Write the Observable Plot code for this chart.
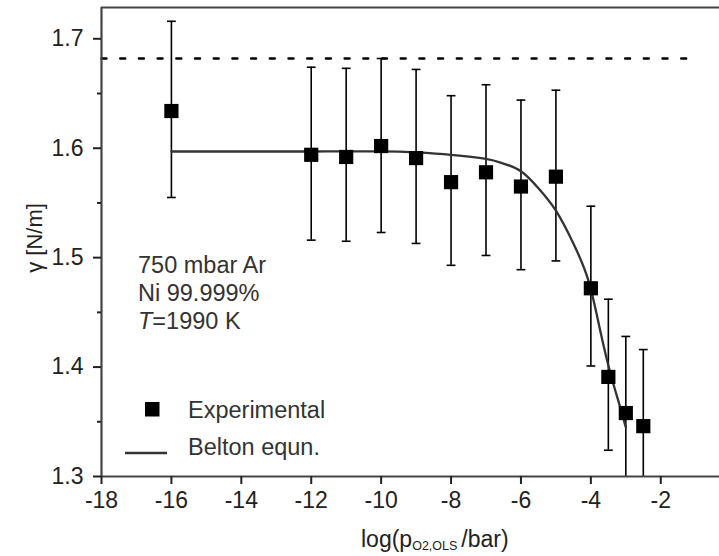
<!DOCTYPE html>
<html><head><meta charset="utf-8">
<script src="https://cdn.jsdelivr.net/npm/d3@7"></script>
<script src="https://cdn.jsdelivr.net/npm/@observablehq/plot@0.6"></script>
<style>body{margin:0;background:#fff}</style>
</head><body><div id="chart"></div>
<script>
// Experimental points
const logP   = [-16, -12, -11, -10, -9, -8, -7, -6, -5, -4, -3.5, -3, -2.5];
const gamma  = [1.634, 1.594, 1.592, 1.602, 1.591, 1.569, 1.578, 1.565, 1.574, 1.472, 1.391, 1.358, 1.346];
const errLow = [1.555, 1.516, 1.515, 1.523, 1.513, 1.493, 1.502, 1.489, 1.497, 1.401, 1.324, 1.287, 1.276];
const errHigh= [1.716, 1.674, 1.673, 1.682, 1.672, 1.648, 1.658, 1.644, 1.653, 1.547, 1.462, 1.428, 1.416];
// Belton equation curve
const beltonX = [-16, -14, -12, -10, -9, -8, -7, -6.5, -6, -5.5, -5, -4.5, -4.07, -3.75, -3.46, -3.2, -3.0];
const beltonY = [1.597, 1.597, 1.597, 1.5972, 1.5962, 1.594, 1.5903, 1.586, 1.579, 1.5635, 1.543, 1.513, 1.479, 1.436, 1.3966, 1.3675, 1.345];
// reference (dotted) line
const refGamma = 1.682;
const refX = [-18, -1];
// axes
const xDomain = [-18, -0.32];
const yDomain = [1.3, 1.7286];
const xTicks = [-18, -16, -14, -12, -10, -8, -6, -4, -2];
const yTicks = [1.3, 1.4, 1.5, 1.6, 1.7];
const yMinor = [1.35, 1.45, 1.55, 1.65];

const pts = logP.map((x, i) => ({x, y: gamma[i], lo: errLow[i], hi: errHigh[i]}));
const curve = beltonX.map((x, i) => ({x, y: beltonY[i]}));
const ref = refX.map(x => ({x, y: refGamma}));

const capSymbol = {draw(ctx, size){ const r = Math.sqrt(size / Math.PI); ctx.moveTo(-r, 0); ctx.lineTo(r, 0); }};
const squareSymbol = {draw(ctx, size){ const r = Math.sqrt(size / Math.PI); ctx.rect(-r, -r, 2 * r, 2 * r); }};

const FONT = "'Liberation Sans', Arial, Helvetica, sans-serif";

const chart = Plot.plot({
  width: 719, height: 556,
  marginLeft: 101, marginRight: 0, marginTop: 7, marginBottom: 80,
  style: {fontFamily: FONT, fontSize: "23px", background: "#fff", color: "#222", overflow: "visible"},
  x: {domain: xDomain},
  y: {domain: yDomain},
  marks: [
    Plot.line(ref, {x: "x", y: "y", stroke: "#000", strokeWidth: 2.4, strokeDasharray: "5 13.7", strokeDashoffset: 0}),
    Plot.ruleX(pts, {x: "x", y1: "lo", y2: "hi", stroke: "#000", strokeWidth: 1.6, clip: true}),
    Plot.dot(pts, {x: "x", y: "hi", symbol: capSymbol, r: 4.4, stroke: "#000", strokeWidth: 1.6, fill: "none", clip: true}),
    Plot.dot(pts, {x: "x", y: "lo", symbol: capSymbol, r: 4.4, stroke: "#000", strokeWidth: 1.6, fill: "none", clip: true}),
    Plot.line(curve, {x: "x", y: "y", curve: "natural", stroke: "#333", strokeWidth: 2.3}),
    Plot.dot(pts, {x: "x", y: "y", symbol: squareSymbol, r: 7.1, fill: "#000", stroke: "none"}),
    Plot.ruleX([xDomain[0]], {stroke: "#444", strokeWidth: 2.2}),
    Plot.ruleY([yDomain[0]], {stroke: "#444", strokeWidth: 2.2}),
    Plot.ruleY([yDomain[1]], {stroke: "#444", strokeWidth: 2.2}),
    Plot.axisX({ticks: xTicks, tickSize: 8, tickPadding: 7, fontSize: 23, strokeWidth: 2, stroke: "#222", fill: "#222", label: null, tickFormat: d => String(d)}),
    Plot.axisY({ticks: yTicks, tickSize: 8, tickPadding: 10, fontSize: 23, strokeWidth: 2, stroke: "#222", fill: "#222", label: null, tickFormat: d3.format(".1f")}),
    Plot.axisY({ticks: yMinor, tickSize: 4, strokeWidth: 2, stroke: "#222", label: null, tickFormat: () => ""})
  ]
});
document.getElementById("chart").appendChild(chart);

const svg = d3.select(chart);
// enforce tick label size
svg.selectAll('g[aria-label$="tick label"]').attr("font-size", 23).style("font-size", "23px");
svg.selectAll('g[aria-label$="tick label"] text').style("font-size", "23px");

const g = svg.append("g").attr("font-family", FONT).attr("fill", "#222").attr("text-anchor", "start");

// y axis label
g.append("text").attr("transform", "translate(42,238) rotate(-90)")
  .attr("text-anchor", "middle").attr("font-size", 22).text("γ [N/m]");

// x axis label with subscript
const xl = g.append("text").attr("x", 361).attr("y", 547).attr("font-size", 23);
xl.append("tspan").text("log(p");
xl.append("tspan").attr("font-size", 12.5).attr("dy", 3).text("O2,OLS");
xl.append("tspan").attr("dy", -3).attr("dx", 4).text("/bar)");

// annotation
const ann = ["750 mbar Ar", "Ni 99.999%"];
ann.forEach((t, i) => g.append("text").attr("x", 138).attr("y", 273 + i * 28).attr("font-size", 23.5).attr("fill", "#333").text(t));
const tl = g.append("text").attr("x", 138).attr("y", 329).attr("font-size", 23.5).attr("fill", "#333");
tl.append("tspan").attr("font-style", "italic").text("T");
tl.append("tspan").text("=1990 K");

// legend
g.append("rect").attr("x", 145).attr("y", 402).attr("width", 14.5).attr("height", 14.5).attr("fill", "#000");
g.append("text").attr("x", 188).attr("y", 418).attr("font-size", 23.5).attr("fill", "#333").text("Experimental");
g.append("line").attr("x1", 125).attr("x2", 167).attr("y1", 453).attr("y2", 453).attr("stroke", "#333").attr("stroke-width", 2.3);
g.append("text").attr("x", 188).attr("y", 455).attr("font-size", 23.5).attr("fill", "#333").text("Belton equn.");
</script>
</body></html>
